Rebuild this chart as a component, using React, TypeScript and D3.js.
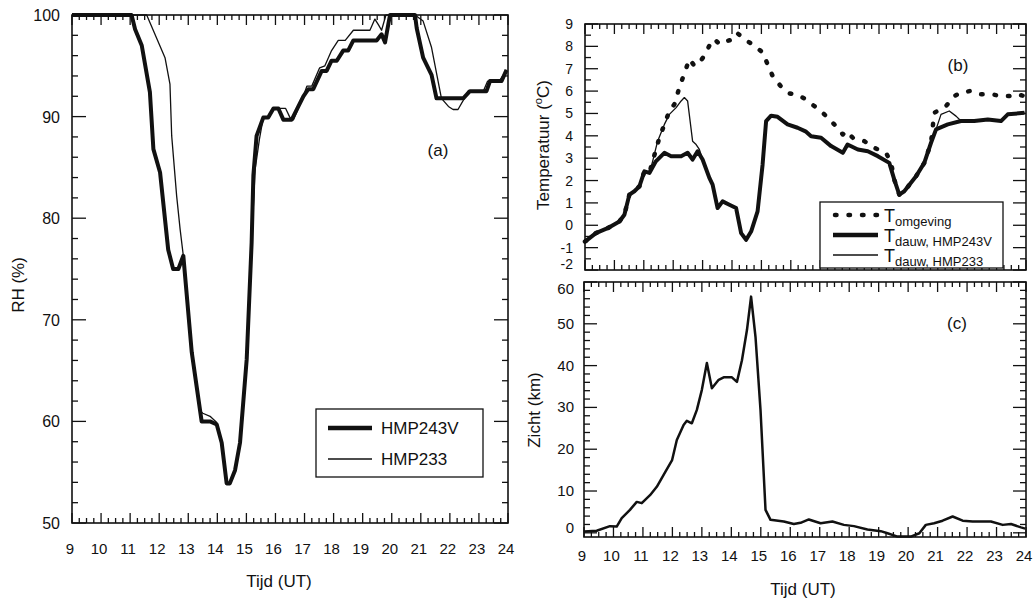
import React from "react";
import * as d3 from "d3";

// ---------- tick labels ----------
const hourTicks = [9, 10, 11, 12, 13, 14, 15, 16, 17, 18, 19, 20, 21, 22, 23, 24];
const rhTicks = [50, 60, 70, 80, 90, 100];
const tempTicks = [-2, -1, 0, 1, 2, 3, 4, 5, 6, 7, 8, 9];
const zichtTicks = [0, 10, 20, 30, 40, 50, 60];

// ---------- (a) RH ----------
const rh243Time = [9, 11.05, 11.17, 11.4, 11.68, 11.8, 12.03, 12.31, 12.48, 12.66, 12.83, 13.12, 13.29, 13.46, 13.75, 13.98, 14.15, 14.32, 14.43, 14.61, 14.78, 15.01, 15.18, 15.24, 15.35, 15.58, 15.75, 15.93, 16.1, 16.27, 16.56, 16.96, 17.13, 17.3, 17.59, 17.76, 17.93, 18.11, 18.33, 18.5, 18.68, 19.48, 19.65, 19.77, 19.94, 20.8, 20.86, 21.08, 21.37, 21.54, 22.46, 22.69, 23.26, 23.38, 23.78, 23.95];
const rh243 = [100, 100, 98.6, 97.0, 92.4, 86.8, 84.5, 76.9, 75.0, 75.0, 76.3, 66.8, 63.4, 60.0, 60.0, 59.7, 57.9, 53.9, 53.9, 55.2, 57.9, 66.1, 77.6, 84.2, 88.1, 89.9, 89.9, 90.8, 90.8, 89.7, 89.7, 92.0, 92.7, 92.7, 94.5, 94.5, 95.5, 95.5, 96.5, 96.5, 97.5, 97.5, 98.1, 97.3, 100, 100, 98.7, 95.8, 94.1, 91.8, 91.8, 92.5, 92.5, 93.5, 93.5, 94.6];
const rh233Time = [9, 11.57, 12.2, 12.37, 12.43, 12.6, 12.72, 12.83, 13.12, 13.29, 13.42, 13.5, 13.75, 13.98, 14.15, 14.32, 14.43, 14.61, 14.78, 15.01, 15.18, 15.3, 15.45, 15.58, 15.75, 15.93, 16.35, 16.5, 16.62, 16.96, 17.08, 17.25, 17.52, 17.7, 17.93, 18.16, 18.4, 18.68, 19.25, 19.42, 19.55, 19.65, 19.8, 20.8, 21.08, 21.37, 21.71, 21.95, 22.11, 22.28, 22.46, 22.62, 23.15, 23.3, 23.7, 23.95];
const rh233 = [100, 100, 95.8, 93.2, 88.1, 82.2, 78.9, 76.3, 66.8, 63.4, 61.0, 60.8, 60.5, 59.9, 57.9, 53.9, 53.9, 55.2, 57.9, 66.1, 77.6, 84.8, 87.8, 89.9, 89.9, 90.8, 90.8, 89.9, 89.7, 92.0, 93.0, 93.0, 94.8, 95.0, 96.5, 97.5, 97.5, 98.5, 98.5, 99.6, 99.0, 98.5, 100, 100, 99.4, 96.8, 91.8, 91.0, 90.7, 90.7, 91.6, 92.5, 92.5, 93.5, 93.5, 94.6];

// ---------- (b) temperatures ----------
const dew243Time = [9.0, 9.37, 9.77, 10.17, 10.34, 10.51, 10.68, 10.85, 11.02, 11.19, 11.41, 11.7, 11.93, 12.27, 12.49, 12.66, 12.83, 13.0, 13.23, 13.34, 13.51, 13.68, 13.91, 14.14, 14.31, 14.48, 14.65, 14.87, 15.04, 15.16, 15.33, 15.55, 15.89, 16.23, 16.5, 16.69, 17.03, 17.37, 17.77, 17.93, 18.28, 18.62, 18.96, 19.35, 19.52, 19.69, 19.86, 20.26, 20.54, 20.77, 20.94, 21.34, 21.79, 22.24, 22.7, 23.15, 23.38, 23.95];
const dew243 = [-0.73, -0.35, -0.13, 0.17, 0.47, 1.37, 1.52, 1.74, 2.41, 2.34, 2.86, 3.24, 3.09, 3.09, 3.24, 2.94, 3.31, 2.94, 2.12, 1.82, 0.77, 1.07, 0.92, 0.77, -0.35, -0.65, -0.28, 0.62, 2.71, 4.66, 4.9, 4.85, 4.51, 4.36, 4.2, 3.98, 3.91, 3.54, 3.24, 3.61, 3.39, 3.31, 3.09, 2.79, 2.04, 1.37, 1.52, 2.19, 2.79, 3.69, 4.29, 4.51, 4.66, 4.66, 4.73, 4.66, 4.96, 5.03];
const dew233Time = [9.0, 9.37, 9.77, 10.17, 10.34, 10.51, 10.68, 10.85, 11.02, 11.19, 11.3, 11.47, 11.7, 11.87, 12.1, 12.27, 12.38, 12.49, 12.66, 12.78, 12.89, 13.0, 13.23, 13.34, 13.51, 13.68, 13.91, 14.14, 14.31, 14.48, 14.65, 14.87, 15.04, 15.16, 15.33, 15.55, 15.89, 16.23, 16.5, 16.69, 17.03, 17.37, 17.77, 17.93, 18.28, 18.62, 18.96, 19.35, 19.52, 19.69, 19.86, 20.26, 20.54, 20.77, 20.94, 21.11, 21.39, 21.62, 21.79, 22.24, 22.7, 23.15, 23.38, 23.95];
const dew233 = [-0.73, -0.35, -0.13, 0.17, 0.47, 1.37, 1.52, 1.74, 2.41, 2.34, 2.86, 3.76, 4.51, 4.96, 5.26, 5.56, 5.71, 5.56, 3.76, 3.61, 3.39, 2.94, 2.12, 1.82, 0.77, 1.07, 0.92, 0.77, -0.35, -0.65, -0.28, 0.62, 2.71, 4.66, 4.9, 4.85, 4.51, 4.36, 4.2, 3.98, 3.91, 3.54, 3.24, 3.61, 3.39, 3.31, 3.09, 2.79, 2.04, 1.37, 1.52, 2.19, 2.79, 3.69, 4.29, 4.96, 5.11, 4.88, 4.66, 4.66, 4.73, 4.66, 4.96, 5.03];
const ambTime = [9.0, 9.37, 9.77, 10.17, 10.34, 10.51, 10.68, 10.85, 11.02, 11.19, 11.3, 11.53, 11.7, 11.87, 12.04, 12.21, 12.38, 12.55, 12.72, 12.89, 13.06, 13.23, 13.4, 13.57, 13.85, 14.08, 14.19, 14.42, 14.76, 15.04, 15.21, 15.38, 15.67, 15.95, 16.23, 16.46, 16.8, 17.14, 17.48, 17.77, 17.88, 18.11, 18.5, 18.84, 19.24, 19.41, 19.52, 19.69, 19.86, 20.26, 20.54, 20.77, 20.88, 21.28, 21.56, 21.79, 22.13, 22.47, 22.81, 23.15, 23.43, 23.66, 23.95];
const amb = [-0.73, -0.35, -0.13, 0.17, 0.47, 1.37, 1.52, 1.74, 2.41, 2.34, 2.86, 3.91, 4.51, 5.11, 5.41, 6.16, 6.79, 7.43, 7.13, 7.28, 7.58, 8.03, 8.33, 8.1, 8.25, 8.33, 8.58, 8.33, 8.03, 7.73, 7.2, 6.68, 6.2, 5.9, 5.82, 5.67, 5.33, 4.96, 4.51, 4.06, 4.21, 3.91, 3.76, 3.46, 3.24, 2.79, 2.04, 1.37, 1.52, 2.19, 2.79, 3.69, 5.03, 5.33, 5.78, 5.93, 6.01, 5.86, 5.86, 5.78, 5.78, 5.86, 5.78];

// ---------- (c) visibility ----------
const zichtTime = [9.0, 9.43, 9.88, 10.11, 10.28, 10.56, 10.79, 10.96, 11.24, 11.47, 11.76, 11.99, 12.15, 12.38, 12.49, 12.66, 12.83, 13.0, 13.17, 13.34, 13.57, 13.74, 14.02, 14.19, 14.36, 14.53, 14.67, 14.82, 14.99, 15.16, 15.33, 15.78, 16.12, 16.35, 16.63, 17.03, 17.43, 17.82, 18.16, 18.62, 19.07, 19.3, 19.64, 20.09, 20.38, 20.6, 20.88, 21.17, 21.51, 21.85, 22.19, 22.81, 23.21, 23.49, 23.83, 23.97];
const zicht = [0.3, 0.5, 1.6, 1.5, 3.5, 5.5, 7.4, 7.1, 9.0, 11.0, 14.6, 17.4, 22.2, 25.8, 26.8, 26.2, 29.4, 34.2, 40.6, 34.6, 36.6, 37.2, 37.2, 36.1, 41.3, 48.5, 56.5, 46.9, 29.4, 5.5, 3.1, 2.7, 2.1, 2.4, 3.2, 2.3, 2.7, 1.9, 1.6, 0.8, 0.4, -0.1, -0.9, -0.9, -0.1, 1.9, 2.3, 2.9, 3.9, 2.9, 2.7, 2.7, 1.9, 2.1, 1.3, 1.0];

const FONT = "'Liberation Sans', Arial, Helvetica, sans-serif";

type Sc = d3.ScaleLinear<number, number>;

function Frame({ x, y, yMajor, yMinor, yMajLen = 13, yMinLen = 6 }: { x: Sc; y: Sc; yMajor: number[]; yMinor: number[]; yMajLen?: number; yMinLen?: number }) {
  const [x0, x1] = x.range();
  const [y1, y0] = y.range();
  const xMinor = d3.range(9, 24.001, 0.25).filter((t) => Math.abs(t - Math.round(t)) > 0.01);
  const ticks: JSX.Element[] = [];
  hourTicks.forEach((t, i) => {
    const px = x(t);
    ticks.push(<line key={"xb" + i} x1={px} x2={px} y1={y1} y2={y1 - 10} />);
    ticks.push(<line key={"xt" + i} x1={px} x2={px} y1={y0} y2={y0 + 10} />);
  });
  xMinor.forEach((t, i) => {
    const px = x(t);
    ticks.push(<line key={"xmb" + i} x1={px} x2={px} y1={y1} y2={y1 - 5} />);
    ticks.push(<line key={"xmt" + i} x1={px} x2={px} y1={y0} y2={y0 + 5} />);
  });
  yMajor.forEach((v, i) => {
    const py = y(v);
    ticks.push(<line key={"yl" + i} x1={x0} x2={x0 + yMajLen} y1={py} y2={py} />);
    ticks.push(<line key={"yr" + i} x1={x1} x2={x1 - yMajLen} y1={py} y2={py} />);
  });
  yMinor.forEach((v, i) => {
    const py = y(v);
    ticks.push(<line key={"yml" + i} x1={x0} x2={x0 + yMinLen} y1={py} y2={py} />);
    ticks.push(<line key={"ymr" + i} x1={x1} x2={x1 - yMinLen} y1={py} y2={py} />);
  });
  return (
    <g>
      <g stroke="#111" strokeWidth={1.3}>{ticks}</g>
      <rect x={x0} y={y0} width={x1 - x0} height={y1 - y0} fill="none" stroke="#111" strokeWidth={1.6} />
    </g>
  );
}

function mkLine(x: Sc, y: Sc, t: number[], v: number[]) {
  return d3.line<[number, number]>().x((d) => x(d[0])).y((d) => y(d[1]))(d3.zip(t, v) as [number, number][]) || "";
}

export default function App() {
  // (a)
  const xa = d3.scaleLinear().domain([9, 24]).range([72, 508]);
  const ya = d3.scaleLinear().domain([50, 100]).range([523, 15]);
  // (b)
  const xb = d3.scaleLinear().domain([9, 24]).range([585, 1026]);
  const yb = d3.scaleLinear().domain([-2, 9]).range([270, 24]);
  // (c)
  const xc = d3.scaleLinear().domain([9, 24]).range([584, 1026]);
  const yc = d3.scaleLinear().domain([-1, 60]).range([537, 282]);

  const rhMinor = d3.range(50, 100, 2).filter((v) => v % 10 !== 0);
  const tMinor = d3.range(-1.5, 9, 1);
  const zMinor = d3.range(0, 60, 2).filter((v) => v % 10 !== 0);

  return (
    <svg width={1034} height={598} style={{ position: "absolute", left: 0, top: 0, background: "#fff" }} fontFamily={FONT}>
      <rect x={0} y={0} width={1034} height={598} fill="#fff" />

      {/* ---------- panel (a) ---------- */}
      <path d={mkLine(xa, ya, rh233Time, rh233)} fill="none" stroke="#111" strokeWidth={1.3} strokeLinejoin="round" />
      <path d={mkLine(xa, ya, rh243Time, rh243)} fill="none" stroke="#111" strokeWidth={4} strokeLinejoin="round" />
      <Frame x={xa} y={ya} yMajor={rhTicks} yMinor={rhMinor} yMajLen={14} />
      {rhTicks.map((v) => (
        <text key={"rh" + v} x={60} y={ya(v) + 6} fontSize={16} textAnchor="end" fill="#111">{v}</text>
      ))}
      {hourTicks.map((h) => (
        <text key={"ha" + h} x={xa(h) - 2} y={554} fontSize={15} textAnchor="middle" fill="#111">{h}</text>
      ))}
      <text x={279} y={587} fontSize={17} textAnchor="middle" fill="#111">Tijd (UT)</text>
      <text transform={`translate(24,${285}) rotate(-90)`} fontSize={17} textAnchor="middle" fill="#111">RH (%)</text>
      <text x={438} y={156} fontSize={17} textAnchor="middle" fill="#111">(a)</text>
      <g>
        <rect x={316} y={409} width={167} height={68} fill="#fff" stroke="#111" strokeWidth={1.3} />
        <line x1={328} x2={372} y1={428} y2={428} stroke="#111" strokeWidth={4.5} />
        <line x1={328} x2={372} y1={459} y2={459} stroke="#111" strokeWidth={1.3} />
        <text x={381} y={434} fontSize={17} fill="#111">HMP243V</text>
        <text x={381} y={465} fontSize={17} fill="#111">HMP233</text>
      </g>

      {/* ---------- panel (b) ---------- */}
      <path d={mkLine(xb, yb, ambTime, amb)} fill="none" stroke="#111" strokeWidth={4.5} strokeDasharray="1.5 12" strokeLinecap="round" strokeLinejoin="round" />
      <path d={mkLine(xb, yb, dew233Time, dew233)} fill="none" stroke="#111" strokeWidth={1.3} strokeLinejoin="round" />
      <path d={mkLine(xb, yb, dew243Time, dew243)} fill="none" stroke="#111" strokeWidth={4} strokeLinejoin="round" />
      <Frame x={xb} y={yb} yMajor={tempTicks} yMinor={tMinor} />
      {tempTicks.map((v) => (
        <text key={"t" + v} x={573} y={Math.min(yb(v) + 5, 269)} fontSize={14} textAnchor="end" fill="#111">{v}</text>
      ))}
      <text transform={`translate(549,${145}) rotate(-90)`} fontSize={17} textAnchor="middle" fill="#111">
        Temperatuur (<tspan fontSize={11} dy={-7}>o</tspan><tspan dy={7}>C)</tspan>
      </text>
      <text x={958} y={71} fontSize={17} textAnchor="middle" fill="#111">(b)</text>
      <g>
        <rect x={820} y={202} width={183} height={66} fill="#fff" stroke="#111" strokeWidth={1.3} />
        <line x1={835} x2={878} y1={215} y2={215} stroke="#111" strokeWidth={4.5} strokeDasharray="1.5 12" strokeLinecap="round" />
        <line x1={833} x2={878} y1={235} y2={235} stroke="#111" strokeWidth={4.5} />
        <line x1={833} x2={878} y1={255} y2={255} stroke="#111" strokeWidth={1.3} />
        <text x={884} y={222} fontSize={18} fill="#111">T<tspan fontSize={13} dy={4}>omgeving</tspan></text>
        <text x={884} y={242} fontSize={18} fill="#111">T<tspan fontSize={13} dy={4}>dauw, HMP243V</tspan></text>
        <text x={884} y={262} fontSize={18} fill="#111">T<tspan fontSize={13} dy={4}>dauw, HMP233</tspan></text>
      </g>

      {/* ---------- panel (c) ---------- */}
      <path d={mkLine(xc, yc, zichtTime, zicht)} fill="none" stroke="#111" strokeWidth={2.5} strokeLinejoin="round" />
      <Frame x={xc} y={yc} yMajor={zichtTicks} yMinor={zMinor} />
      {zichtTicks.map((v) => (
        <text key={"z" + v} x={574} y={Math.min(Math.max(yc(v) + 5, 294), 533)} fontSize={15} textAnchor="end" fill="#111">{v}</text>
      ))}
      {hourTicks.map((h) => (
        <text key={"hc" + h} x={xc(h) - 2} y={561} fontSize={15} textAnchor="middle" fill="#111">{h}</text>
      ))}
      <text x={803} y={595} fontSize={17} textAnchor="middle" fill="#111">Tijd (UT)</text>
      <text transform={`translate(540,${410}) rotate(-90)`} fontSize={17} textAnchor="middle" fill="#111">Zicht (km)</text>
      <text x={957} y={329} fontSize={17} textAnchor="middle" fill="#111">(c)</text>
    </svg>
  );
}
